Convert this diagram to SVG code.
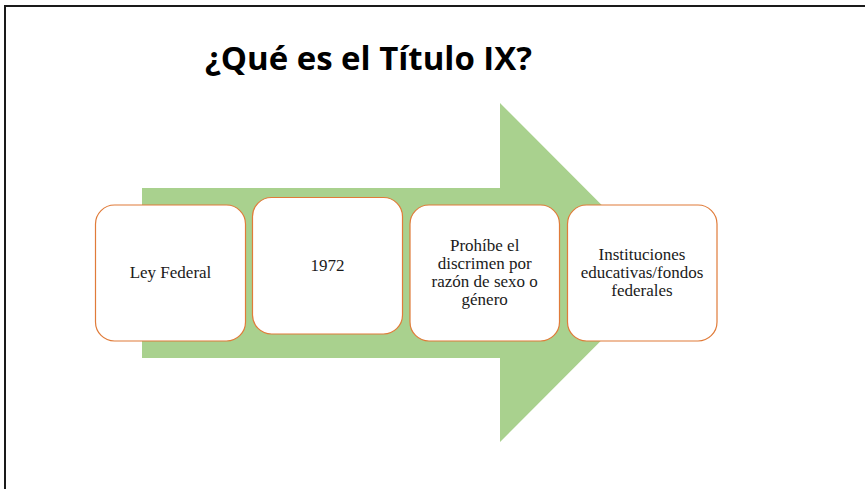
<svg xmlns="http://www.w3.org/2000/svg" width="865" height="489" viewBox="0 0 865 489">
<style>
.box{fill:#fff;stroke:#E07B39;stroke-width:1.2}
.t{font-family:"Liberation Serif","Times New Roman",serif;font-size:17px;fill:#1a1a1a;text-anchor:middle}
.title{font-family:"Open Sans","Liberation Sans",sans-serif;font-weight:bold;font-size:32px;fill:#000}
</style>
<rect x="0" y="0" width="865" height="489" fill="#fff"/>
<path d="M5 489 V6 H866" fill="none" stroke="#1a1a1a" stroke-width="2"/>
<text class="title" x="205" y="70" textLength="327" lengthAdjust="spacingAndGlyphs">¿Qué es el Título IX?</text>
<g id="arrow">
<polygon points="142,188 500,188 500,103 669,272.5 500,442 500,358 142,358" fill="#A9D18E"/>
</g>
<g id="node1">
<rect class="box" x="95.5" y="205" width="150" height="136" rx="19"/>
<text class="t" x="170.5" y="278">Ley Federal</text>
</g>
<g id="node2">
<rect class="box" x="252.5" y="197.5" width="150" height="136.5" rx="19"/>
<text class="t" x="327.5" y="271">1972</text>
</g>
<g id="node3">
<rect class="box" x="410" y="205" width="149.5" height="136" rx="19"/>
<text class="t" x="484.7" y="251">Prohíbe el</text>
<text class="t" x="484.7" y="269">discrimen por</text>
<text class="t" x="484.7" y="287">razón de sexo o</text>
<text class="t" x="484.7" y="305">género</text>
</g>
<g id="node4">
<rect class="box" x="567.5" y="205" width="149.5" height="136" rx="19"/>
<text class="t" x="642" y="260">Instituciones</text>
<text class="t" x="642" y="278">educativas/fondos</text>
<text class="t" x="642" y="296">federales</text>
</g>
<g id="connectors"></g>
</svg>
